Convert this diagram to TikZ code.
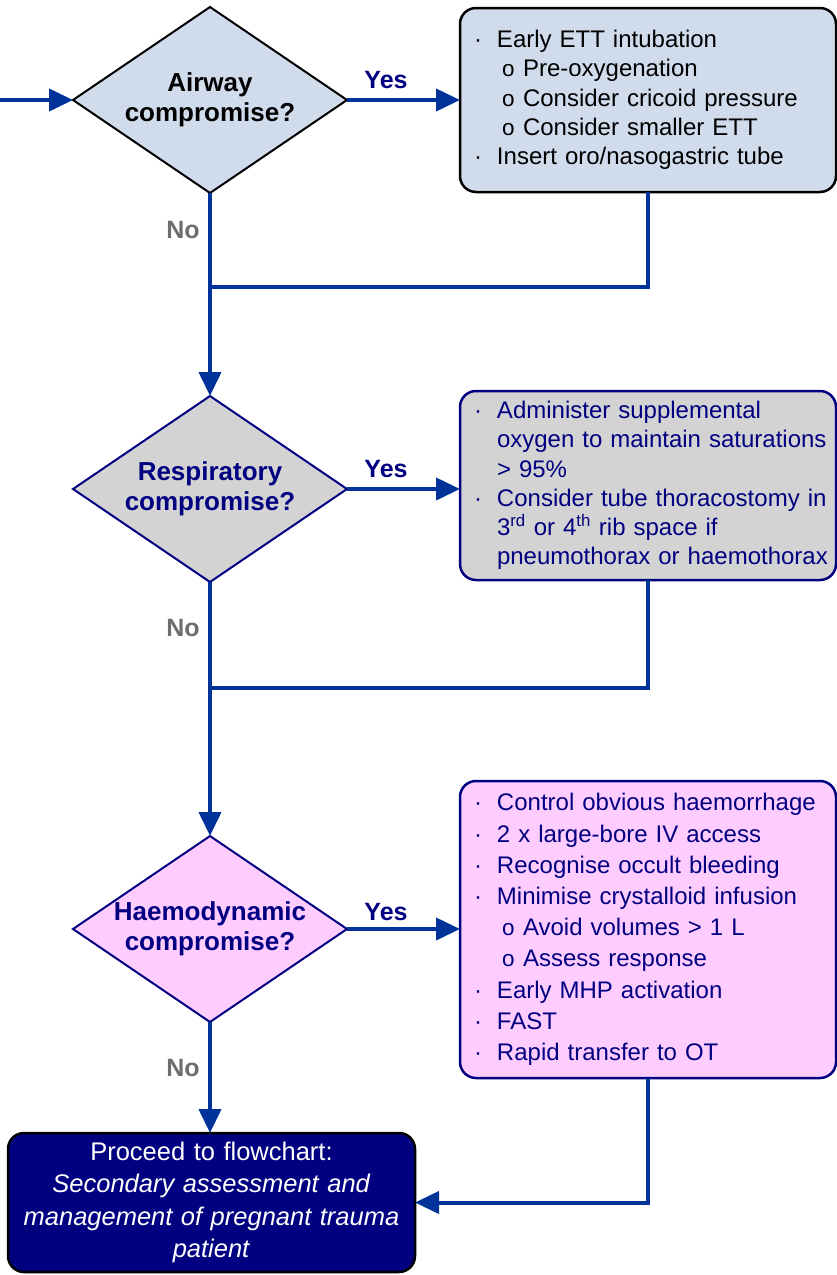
\documentclass[tikz,border=0pt]{standalone}
\usepackage{fontspec}
\setmainfont{Liberation Sans}
\usetikzlibrary{shapes.geometric,arrows.meta}
\definecolor{arrowblue}{HTML}{003399}
\definecolor{navyc}{HTML}{000080}
\definecolor{lightblue}{HTML}{D0DBEC}
\definecolor{greyfill}{HTML}{D3D3D3}
\definecolor{pinkfill}{HTML}{FFCCFF}
\definecolor{nogrey}{HTML}{6E6E6E}
\newcommand{\bitem}[1]{\mbox{\makebox[23pt][l]{\textperiodcentered}#1}}
\newcommand{\bcont}[1]{\mbox{\hspace{23pt}#1}}
\newcommand{\bsub}[1]{\mbox{\makebox[49pt][l]{\hspace{28pt}{\fontsize{22.5}{22.5}\selectfont o}}#1}}
\begin{document}
\begin{tikzpicture}[x=1pt,y=-1pt,
 dec/.style={diamond, aspect=1.47, minimum width=274pt, minimum height=186pt, inner sep=0pt, outer sep=0pt, line width=2pt, align=center, font=\fontsize{26}{30}\selectfont\bfseries},
 infobox/.style={rectangle, rounded corners=16pt, line width=2.5pt, minimum width=376pt, text width=348pt, inner xsep=14pt, inner ysep=0pt, align=left, outer sep=0pt, font=\fontsize{24}{29.3}\selectfont},
 arr/.style={line width=4pt, draw=arrowblue, -{Triangle[length=24pt,width=22pt]}},
 ln/.style={line width=4pt, draw=arrowblue},
 yeslab/.style={font=\fontsize{25}{30}\selectfont\bfseries, text=navyc},
 nolab/.style={font=\fontsize{25}{30}\selectfont\bfseries, text=nogrey}]

\useasboundingbox (0,0) rectangle (837,1275);

% decisions
\node[dec, fill=lightblue, draw=black] (d1) at (210,100) {Airway\\compromise?};
\node[dec, fill=greyfill, draw=navyc, text=navyc] (d2) at (210,489) {Respiratory\\compromise?};
\node[dec, fill=pinkfill, draw=navyc, text=navyc] (d3) at (210,929) {Haemodynamic\\compromise?};

% info boxes
\node[infobox, fill=lightblue, draw=black, minimum height=184pt] (b1) at (648,100) {%
\bitem{Early ETT intubation}\\
\bsub{Pre-oxygenation}\\
\bsub{Consider cricoid pressure}\\
\bsub{Consider smaller ETT}\\
\bitem{Insert oro/nasogastric tube}};

\node[infobox, fill=greyfill, draw=navyc, text=navyc, minimum height=189pt] (b2) at (648,485.5) {%
\bitem{Administer supplemental}\\
\bcont{oxygen to maintain saturations}\\
\bcont{> 95\%}\\
\bitem{Consider tube thoracostomy in}\\
\bcont{3\textsuperscript{rd} or 4\textsuperscript{th} rib space if}\\
\bcont{pneumothorax or haemothorax}};

\node[infobox, fill=pinkfill, draw=navyc, text=navyc, minimum height=297pt, font=\fontsize{24}{31.2}\selectfont] (b3) at (648,929.5) {%
\bitem{Control obvious haemorrhage}\\
\bitem{2 x large-bore IV access}\\
\bitem{Recognise occult bleeding}\\
\bitem{Minimise crystalloid infusion}\\
\bsub{Avoid volumes > 1 L}\\
\bsub{Assess response}\\
\bitem{Early MHP activation}\\
\bitem{FAST}\\
\bitem{Rapid transfer to OT}};

% final box
\node[rectangle, rounded corners=16pt, line width=2.5pt, fill=navyc, draw=black, text=white,
 minimum width=407pt, minimum height=139pt, text width=400pt, inner sep=0pt, outer sep=0pt,
 align=center, font=\fontsize{25.5}{32.5}\selectfont] (f) at (211.5,1202.5) {%
Proceed to flowchart:\\
\textit{Secondary assessment and}\\
\textit{management of pregnant trauma}\\
\textit{patient}};

% labels
\node[yeslab] (y1) at (386,80) {Yes};
\node[yeslab] (y2) at (386,469) {Yes};
\node[yeslab] (y3) at (386,912) {Yes};
\node[nolab] (n1) at (183,230) {No};
\node[nolab] (n2) at (183,628) {No};
\node[nolab] (n3) at (183,1068) {No};

% connectors
\coordinate (in) at (0,100);
\coordinate (j1) at (210,287);
\coordinate (j2) at (210,688);
\draw[arr] (in) -- (d1.west);
\draw[arr] (d1.east) -- (d1.east -| b1.west);
\draw[arr] (d1.south) -- (d2.north);
\draw[ln] (b1.south) |- (j1);
\draw[arr] (d2.east) -- (d2.east -| b2.west);
\draw[arr] (d2.south) -- (d3.north);
\draw[ln] (b2.south) |- (j2);
\draw[arr] (d3.east) -- (d3.east -| b3.west);
\draw[arr] (d3.south) -- (d3.south |- f.north);
\draw[arr] (b3.south) |- (f.east);
\end{tikzpicture}
\end{document}
